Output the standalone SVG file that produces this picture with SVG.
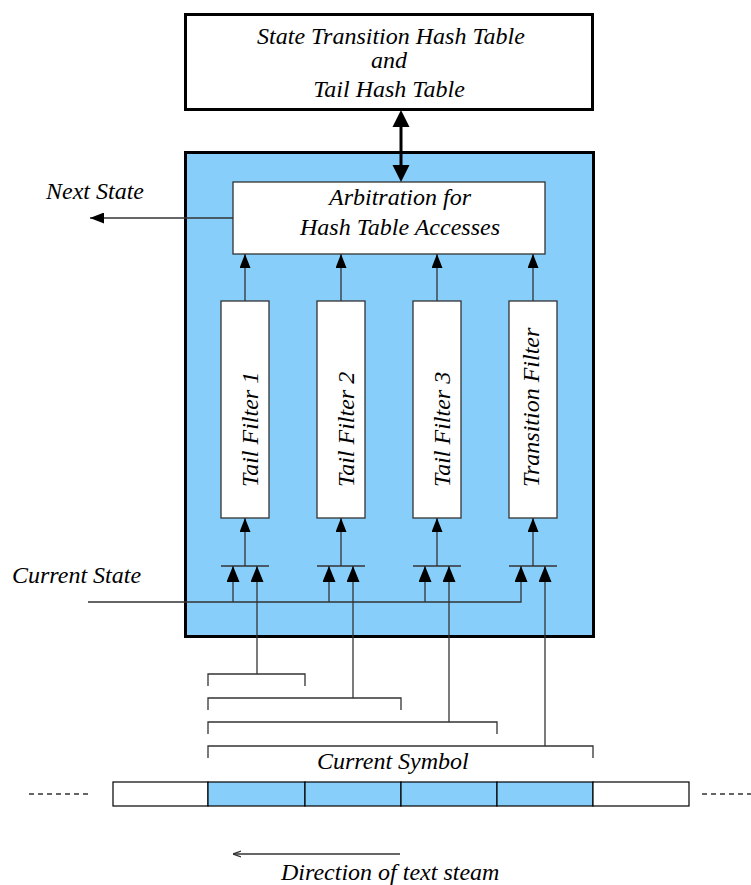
<svg xmlns="http://www.w3.org/2000/svg" width="751" height="885" viewBox="0 0 751 885">
  <style>
    .lbl { font-family: "Liberation Serif", "Times New Roman", serif; font-style: italic; font-size: 24px; fill: #000; }
    .mid { text-anchor: middle; }
    .thick { fill: none; stroke: #000; stroke-width: 3; }
    .box { fill: #fff; stroke: #333; stroke-width: 1.3; }
    .wire { fill: none; stroke: #333; stroke-width: 1.3; }
    .cell { stroke: #000; stroke-width: 1.2; }
    .blue { fill: #87cefa; }
  </style>
  <defs>
    <marker id="head" viewBox="0 0 14 11" refX="14" refY="5.5" markerWidth="14" markerHeight="11" markerUnits="userSpaceOnUse" orient="auto">
      <path d="M0,0 L14,5.5 L0,11 Z" fill="#000"/>
    </marker>
    <marker id="headIn" viewBox="0 0 16 13" refX="16" refY="6.5" markerWidth="16" markerHeight="13" markerUnits="userSpaceOnUse" orient="auto">
      <path d="M0,0 L16,6.5 L0,13 Z" fill="#000"/>
    </marker>
    <marker id="stick" viewBox="0 0 8 8" refX="8" refY="4" markerWidth="8" markerHeight="8" markerUnits="userSpaceOnUse" orient="auto">
      <path d="M0,1 L8,4 L0,7" fill="none" stroke="#333" stroke-width="1.2"/>
    </marker>
  </defs>

  <!-- hash tables -->
  <g id="hash-tables">
    <rect class="thick" x="185.5" y="14.5" width="407" height="95" fill="#fff"/>
    <text class="lbl mid" x="391" y="44">State Transition Hash Table</text>
    <text class="lbl mid" x="389" y="68">and</text>
    <text class="lbl mid" x="389" y="97">Tail Hash Table</text>
  </g>

  <!-- matching engine -->
  <g id="engine">
    <rect class="thick blue" x="185.5" y="152.5" width="408" height="484"/>
  </g>

  <g id="arbitration">
    <rect class="box" x="233" y="182" width="312" height="72"/>
    <text class="lbl mid" x="400" y="205">Arbitration for</text>
    <text class="lbl mid" x="400" y="235">Hash Table Accesses</text>
  </g>

  <g id="tail-filter-1">
    <rect class="box" x="221" y="301" width="48" height="217"/>
    <text class="lbl" transform="translate(258,487) rotate(-90)">Tail Filter 1</text>
  </g>
  <g id="tail-filter-2">
    <rect class="box" x="317" y="301" width="48" height="217"/>
    <text class="lbl" transform="translate(354,487) rotate(-90)">Tail Filter 2</text>
  </g>
  <g id="tail-filter-3">
    <rect class="box" x="413" y="301" width="48" height="217"/>
    <text class="lbl" transform="translate(450,487) rotate(-90)">Tail Filter 3</text>
  </g>
  <g id="transition-filter">
    <rect class="box" x="509" y="301" width="48" height="217"/>
    <text class="lbl" transform="translate(539,487) rotate(-90)">Transition Filter</text>
  </g>

  <!-- text stream -->
  <g id="text-stream">
    <rect class="cell" x="113" y="782" width="95" height="24" fill="#fff"/>
    <rect class="cell blue" x="208" y="782" width="97" height="24"/>
    <rect class="cell blue" x="305" y="782" width="96" height="24"/>
    <rect class="cell blue" x="401" y="782" width="96" height="24"/>
    <rect class="cell blue" x="497" y="782" width="96" height="24"/>
    <rect class="cell" x="593" y="782" width="96" height="24" fill="#fff"/>
    <line class="wire" x1="29" y1="794" x2="89" y2="794" stroke-dasharray="5,4"/>
    <line class="wire" x1="702" y1="794" x2="751" y2="794" stroke-dasharray="5,4"/>
    <text class="lbl" x="317" y="769">Current Symbol</text>
  </g>

  <g id="labels">
    <text class="lbl" x="46" y="199">Next State</text>
    <text class="lbl" x="12" y="583">Current State</text>
    <text class="lbl" x="281" y="880">Direction of text steam</text>
  </g>

  <!-- connectors -->
  <g id="connectors">
    <!-- bidirectional hash table access -->
    <line x1="401" y1="122" x2="401" y2="170" stroke="#000" stroke-width="3"/>
    <polygon points="401,110 392.5,127 409.5,127" fill="#000"/>
    <polygon points="401,182 392.5,165 409.5,165" fill="#000"/>

    <!-- next state output -->
    <line class="wire" x1="233" y1="218" x2="90" y2="218" marker-end="url(#head)"/>

    <!-- filters to arbitration -->
    <line class="wire" x1="245" y1="301" x2="245" y2="254" marker-end="url(#head)"/>
    <line class="wire" x1="341" y1="301" x2="341" y2="254" marker-end="url(#head)"/>
    <line class="wire" x1="437" y1="301" x2="437" y2="254" marker-end="url(#head)"/>
    <line class="wire" x1="533" y1="301" x2="533" y2="254" marker-end="url(#head)"/>

    <!-- input bars to filters -->
    <line class="wire" x1="221" y1="566" x2="269" y2="566"/>
    <line class="wire" x1="317" y1="566" x2="365" y2="566"/>
    <line class="wire" x1="413" y1="566" x2="461" y2="566"/>
    <line class="wire" x1="509" y1="566" x2="557" y2="566"/>
    <line class="wire" x1="245" y1="566" x2="245" y2="518" marker-end="url(#head)"/>
    <line class="wire" x1="341" y1="566" x2="341" y2="518" marker-end="url(#head)"/>
    <line class="wire" x1="437" y1="566" x2="437" y2="518" marker-end="url(#head)"/>
    <line class="wire" x1="533" y1="566" x2="533" y2="518" marker-end="url(#head)"/>

    <!-- current state distribution -->
    <polyline class="wire" points="88,602 521,602 521,566" marker-end="url(#headIn)"/>
    <line class="wire" x1="233" y1="602" x2="233" y2="566" marker-end="url(#headIn)"/>
    <line class="wire" x1="329" y1="602" x2="329" y2="566" marker-end="url(#headIn)"/>
    <line class="wire" x1="425" y1="602" x2="425" y2="566" marker-end="url(#headIn)"/>

    <!-- symbol windows -->
    <line class="wire" x1="257" y1="674" x2="257" y2="566" marker-end="url(#headIn)"/>
    <line class="wire" x1="353" y1="698" x2="353" y2="566" marker-end="url(#headIn)"/>
    <line class="wire" x1="449" y1="722" x2="449" y2="566" marker-end="url(#headIn)"/>
    <line class="wire" x1="545" y1="746" x2="545" y2="566" marker-end="url(#headIn)"/>
    <polyline class="wire" points="208,686 208,674 305,674 305,686"/>
    <polyline class="wire" points="208,710 208,698 401,698 401,710"/>
    <polyline class="wire" points="208,734 208,722 497,722 497,734"/>
    <polyline class="wire" points="208,758 208,746 593,746 593,758"/>

    <!-- stream direction -->
    <line class="wire" x1="400" y1="854" x2="233" y2="854" marker-end="url(#stick)"/>
  </g>
</svg>
